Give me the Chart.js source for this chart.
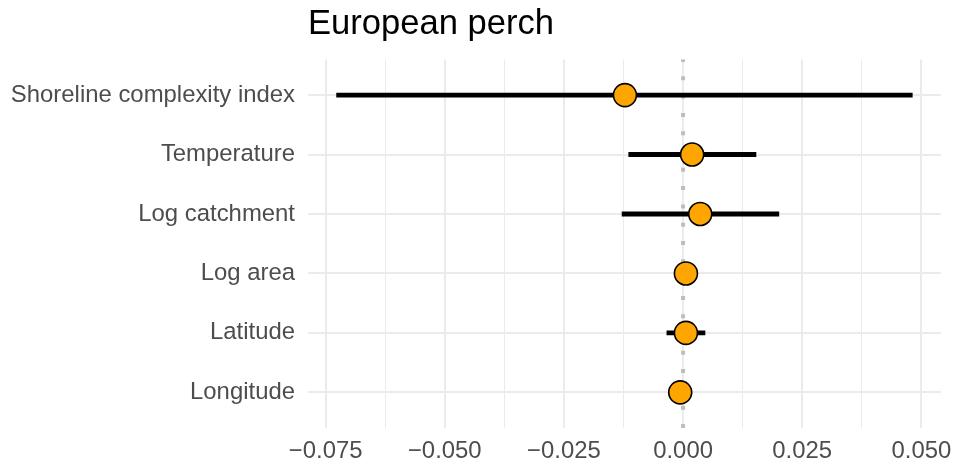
<!DOCTYPE html>
<html>
<head>
<meta charset="utf-8">
<script src="https://cdn.jsdelivr.net/npm/chart.js@4/dist/chart.umd.min.js"></script>
<style>
  html, body { margin: 0; padding: 0; background: #ffffff; }
  #wrap { width: 954px; height: 464px; }
</style>
</head>
<body>
<div id="wrap"><canvas id="c" width="954" height="464"></canvas></div>
<script>
// Model coefficients for European perch (top to bottom)
const predictors = ['Shoreline complexity index', 'Temperature', 'Log catchment', 'Log area', 'Latitude', 'Longitude'];
const estimates  = [-0.0122, 0.0019, 0.0036, 0.0006, 0.0006, -0.0006];
const lowerCI    = [-0.0727, -0.0114, -0.0128, -0.0010, -0.0034, -0.0024];
const upperCI    = [0.0481, 0.0153, 0.0201, 0.0022, 0.0046, 0.0012];

// x axis: labelled ticks and all grid positions (major + minor)
const xTickValues = [-0.075, -0.05, -0.025, 0, 0.025, 0.05];
const xTickLabels = ['\u22120.075', '\u22120.050', '\u22120.025', '0.000', '0.025', '0.050'];
const xGridValues = [-0.075, -0.0625, -0.05, -0.0375, -0.025, -0.0125, 0, 0.0125, 0.025, 0.0375, 0.05];

const FONT = '"Liberation Sans", Arial, Helvetica, sans-serif';
const GRID = '#EBEBEB';
const TEXT = '#4D4D4D';

function labelFor(v) {
  for (let i = 0; i < xTickValues.length; i++) {
    if (Math.abs(v - xTickValues[i]) < 1e-9) return xTickLabels[i];
  }
  return '';
}
function isMajor(v) { return labelFor(v) !== ''; }

// dotted reference line at zero, under the marks
const zeroLine = {
  id: 'zeroLine',
  beforeDatasetsDraw(chart) {
    const { ctx, chartArea } = chart;
    const x0 = chart.scales.x.getPixelForValue(0);
    ctx.save();
    ctx.strokeStyle = '#BEBEBE';
    ctx.lineWidth = 4;
    ctx.lineCap = 'butt';
    ctx.setLineDash([4, 14.3]);
    ctx.beginPath();
    ctx.moveTo(x0, chartArea.bottom);
    ctx.lineTo(x0, chartArea.top);
    ctx.stroke();
    ctx.restore();
  }
};

new Chart(document.getElementById('c'), {
  type: 'scatter',
  data: {
    datasets: [
      {
        type: 'scatter',
        label: 'Estimate',
        data: estimates.map((e, i) => ({ x: e, y: i })),
        backgroundColor: '#FFA500',
        borderColor: '#000000',
        borderWidth: 1.6,
        pointRadius: 11.5,
        pointHoverRadius: 11.5,
        pointHoverBorderWidth: 1.6
      },
      {
        type: 'bar',
        label: 'Interval',
        indexAxis: 'y',
        data: predictors.map((_, i) => ({ x: [lowerCI[i], upperCI[i]], y: i })),
        backgroundColor: '#000000',
        borderWidth: 0,
        borderSkipped: false,
        barThickness: 4.2
      }
    ]
  },
  options: {
    responsive: false,
    animation: false,
    devicePixelRatio: 1,
    layout: { padding: { left: 0, right: 13, top: 0, bottom: 0 } },
    plugins: {
      legend: { display: false },
      tooltip: { enabled: false },
      title: {
        display: true,
        text: 'European perch',
        align: 'start',
        fullSize: false,
        color: '#000000',
        font: { family: FONT, size: 34.6, weight: 'normal', lineHeight: 1.2 },
        padding: { top: 4, bottom: 13.9 }
      }
    },
    scales: {
      x: {
        type: 'linear',
        min: -0.0787,
        max: 0.0541,
        offset: false,
        afterBuildTicks(scale) { scale.ticks = xGridValues.map(v => ({ value: v })); },
        afterFit(scale) {
          scale.height = 36;
          scale.paddingLeft = 0;
          scale.paddingRight = 0;
        },
        ticks: {
          autoSkip: false,
          maxRotation: 0,
          padding: 9,
          color: TEXT,
          font: { family: FONT, size: 23.9 },
          callback: (v) => labelFor(v)
        },
        grid: {
          color: GRID,
          lineWidth: (c) => (c.tick && isMajor(c.tick.value) ? 2 : 1),
          drawTicks: false,
          offset: false
        },
        border: { display: false }
      },
      y: {
        type: 'linear',
        reverse: true,
        min: -0.6,
        max: 5.6,
        offset: false,
        beginAtZero: false,
        afterBuildTicks(scale) { scale.ticks = predictors.map((_, i) => ({ value: i })); },
        afterFit(scale) {
          scale.width = 308;
          scale.paddingTop = 0;
          scale.paddingBottom = 0;
        },
        ticks: {
          autoSkip: false,
          padding: 13,
          color: TEXT,
          font: { family: FONT, size: 23.9 },
          callback: (v) => predictors[v] ?? ''
        },
        grid: { color: GRID, lineWidth: 2, drawTicks: false, offset: false },
        border: { display: false }
      }
    }
  },
  plugins: [zeroLine]
});
</script>
</body>
</html>
